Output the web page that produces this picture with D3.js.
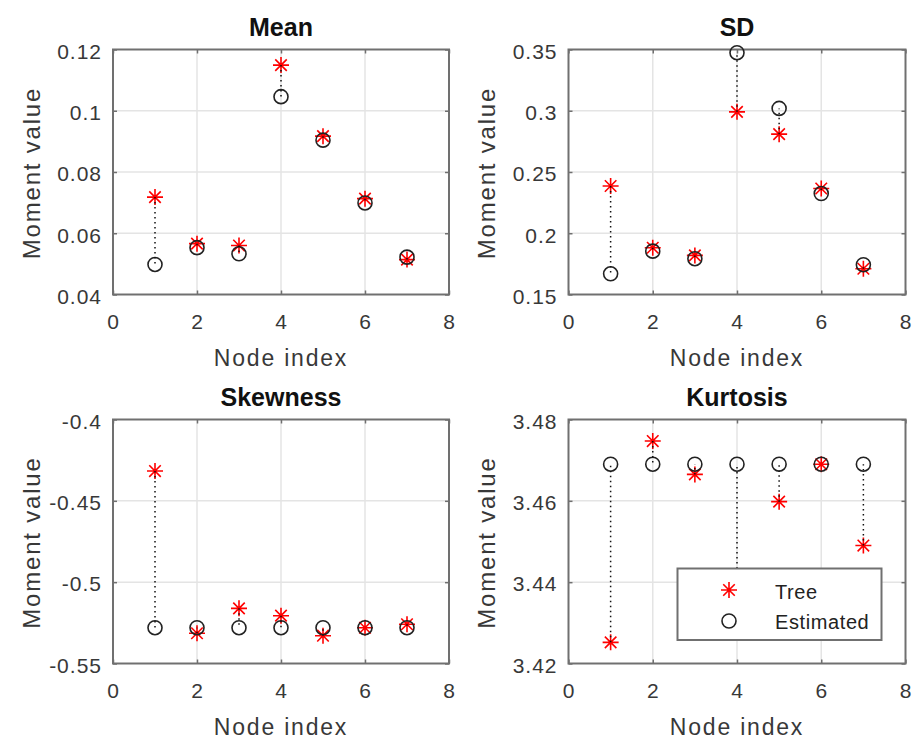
<!DOCTYPE html>
<html>
<head>
<meta charset="utf-8">
<script src="https://cdn.jsdelivr.net/npm/d3@7"></script>
<style>
  html, body { margin: 0; padding: 0; background: #fff; }
  svg { display: block; font-family: "Liberation Sans", Arial, Helvetica, sans-serif; }
</style>
</head>
<body>
<svg id="chart" width="914" height="740"></svg>
<script>
// ---- data ----
const nodeIndex = [1, 2, 3, 4, 5, 6, 7];
const xTicks = [0, 2, 4, 6, 8];

const meanTree = [0.0718, 0.0566, 0.0560, 0.1149, 0.0917, 0.0713, 0.0514];
const meanEst  = [0.0498, 0.0553, 0.0533, 0.1046, 0.0904, 0.0699, 0.0522];
const meanTicks = [0.04, 0.06, 0.08, 0.1, 0.12];

const sdTree = [0.2386, 0.1882, 0.1819, 0.2991, 0.2809, 0.2365, 0.1710];
const sdEst  = [0.1669, 0.1854, 0.1792, 0.3474, 0.3019, 0.2324, 0.1743];
const sdTicks = [0.15, 0.2, 0.25, 0.3, 0.35];

const skewTree = [-0.4317, -0.5314, -0.5161, -0.5206, -0.5329, -0.5280, -0.5259];
const skewEst  = [-0.5280, -0.5280, -0.5280, -0.5280, -0.5280, -0.5280, -0.5280];
const skewTicks = [-0.55, -0.5, -0.45, -0.4];

const kurtTree = [3.4252, 3.4747, 3.4665, 3.4360, 3.4598, 3.4690, 3.4490];
const kurtEst  = [3.4690, 3.4690, 3.4690, 3.4690, 3.4690, 3.4690, 3.4690];
const kurtTicks = [3.42, 3.44, 3.46, 3.48];

const titles = ["Mean", "SD", "Skewness", "Kurtosis"];
const xLabel = "Node index";
const yLabel = "Moment value";
const legendLabels = ["Tree", "Estimated"];

// ---- layout ----
const svg = d3.select("#chart");
const panels = [
  { title: titles[0], tree: meanTree, est: meanEst, ticks: meanTicks, left: 113,   top: 49.5,  w: 336, h: 245 },
  { title: titles[1], tree: sdTree,   est: sdEst,   ticks: sdTicks,   left: 568.5, top: 49.5,  w: 337, h: 245 },
  { title: titles[2], tree: skewTree, est: skewEst, ticks: skewTicks, left: 113,   top: 419.5, w: 336, h: 244 },
  { title: titles[3], tree: kurtTree, est: kurtEst, ticks: kurtTicks, left: 568.5, top: 419.5, w: 337, h: 244, legend: true }
];

const axisColor = "#707070";
const textColor = "#383838";
const gridColor = "#e4e4e4";

function starPath(r) {
  const d = r * 0.72;
  return `M${-r},0L${r},0M0,${-r}L0,${r}M${-d},${-d}L${d},${d}M${-d},${d}L${d},${-d}`;
}

panels.forEach(p => {
  const g = svg.append("g").attr("transform", `translate(${p.left},${p.top})`);
  const x = d3.scaleLinear().domain([xTicks[0], xTicks[xTicks.length - 1]]).range([0, p.w]);
  const y = d3.scaleLinear().domain([p.ticks[0], p.ticks[p.ticks.length - 1]]).range([p.h, 0]);

  // grid
  g.append("g").selectAll("line").data(xTicks.slice(1, -1)).join("line")
    .attr("x1", d => x(d)).attr("x2", d => x(d)).attr("y1", 0).attr("y2", p.h)
    .attr("stroke", gridColor).attr("stroke-width", 1.5);
  g.append("g").selectAll("line").data(p.ticks.slice(1, -1)).join("line")
    .attr("y1", d => y(d)).attr("y2", d => y(d)).attr("x1", 0).attr("x2", p.w)
    .attr("stroke", gridColor).attr("stroke-width", 1.5);

  // axes
  const ax = g.append("g").attr("transform", `translate(0,${p.h})`)
    .call(d3.axisBottom(x).tickValues(xTicks).tickSize(-4).tickPadding(20).tickFormat(d3.format("d")));
  const ay = g.append("g")
    .call(d3.axisLeft(y).tickValues(p.ticks).tickSize(-4).tickPadding(11).tickFormat(d => String(d)));
  const at = g.append("g").call(d3.axisTop(x).tickValues(xTicks).tickSize(-4).tickFormat(""));
  const ar = g.append("g").attr("transform", `translate(${p.w},0)`)
    .call(d3.axisRight(y).tickValues(p.ticks).tickSize(-4).tickFormat(""));
  [ax, ay, at, ar].forEach(a => {
    a.select(".domain").remove();
    a.selectAll(".tick line").attr("stroke", axisColor).attr("stroke-width", 1.5);
    a.selectAll("text").attr("fill", textColor).style("font-size", "21px").style("letter-spacing", "1px");
  });
  ay.selectAll("text").attr("dy", "0.42em");

  // box
  g.append("rect").attr("x", 0).attr("y", 0).attr("width", p.w).attr("height", p.h)
    .attr("fill", "none").attr("stroke", axisColor).attr("stroke-width", 2);

  // title
  g.append("text").attr("x", p.w / 2).attr("y", -13.5).attr("text-anchor", "middle")
    .style("font-size", "25px").style("font-weight", "bold").attr("fill", "#111").text(p.title);
  // x label
  g.append("text").attr("x", p.w / 2).attr("y", p.h + 71.5).attr("text-anchor", "middle")
    .style("font-size", "23px").style("letter-spacing", "1.8px").attr("fill", textColor).text(xLabel);
  // y label
  g.append("text").attr("transform", `translate(-73.5,${p.h / 2 + 1}) rotate(-90)`).attr("text-anchor", "middle")
    .style("font-size", "24px").style("letter-spacing", "1.8px").attr("fill", textColor).text(yLabel);

  const pts = nodeIndex.map((n, i) => ({ n, t: p.tree[i], e: p.est[i] }));

  // tree markers
  g.append("g").selectAll("path").data(pts).join("path")
    .attr("transform", d => `translate(${x(d.n)},${y(d.t)})`)
    .attr("d", starPath(8)).attr("stroke", "#ff0000").attr("stroke-width", 1.6).attr("fill", "none");
  // estimated markers
  g.append("g").selectAll("circle").data(pts).join("circle")
    .attr("cx", d => x(d.n)).attr("cy", d => y(d.e)).attr("r", 7)
    .attr("fill", "none").attr("stroke", "#222").attr("stroke-width", 1.6);
  // dotted connectors
  g.append("g").selectAll("line").data(pts).join("line")
    .attr("x1", d => x(d.n)).attr("x2", d => x(d.n))
    .attr("y1", d => y(d.t)).attr("y2", d => y(d.e))
    .attr("stroke", "#111").attr("stroke-width", 1.5).attr("stroke-dasharray", "1.5,3.5");

  if (p.legend) {
    const lg = g.append("g").attr("transform", `translate(109,149)`);
    lg.append("rect").attr("width", 204).attr("height", 71.5).attr("fill", "#fff")
      .attr("stroke", axisColor).attr("stroke-width", 2);
    lg.append("path").attr("transform", "translate(51.5,21.5)").attr("d", starPath(8))
      .attr("stroke", "#ff0000").attr("stroke-width", 1.6).attr("fill", "none");
    lg.append("circle").attr("cx", 51.5).attr("cy", 52.5).attr("r", 7)
      .attr("fill", "none").attr("stroke", "#222").attr("stroke-width", 1.6);
    lg.selectAll("text").data(legendLabels).join("text")
      .attr("x", 97.5).attr("y", (d, i) => 30.5 + i * 30)
      .style("font-size", "20px").style("letter-spacing", "0.6px").attr("fill", "#222").text(d => d);
  }
});
</script>
</body>
</html>
